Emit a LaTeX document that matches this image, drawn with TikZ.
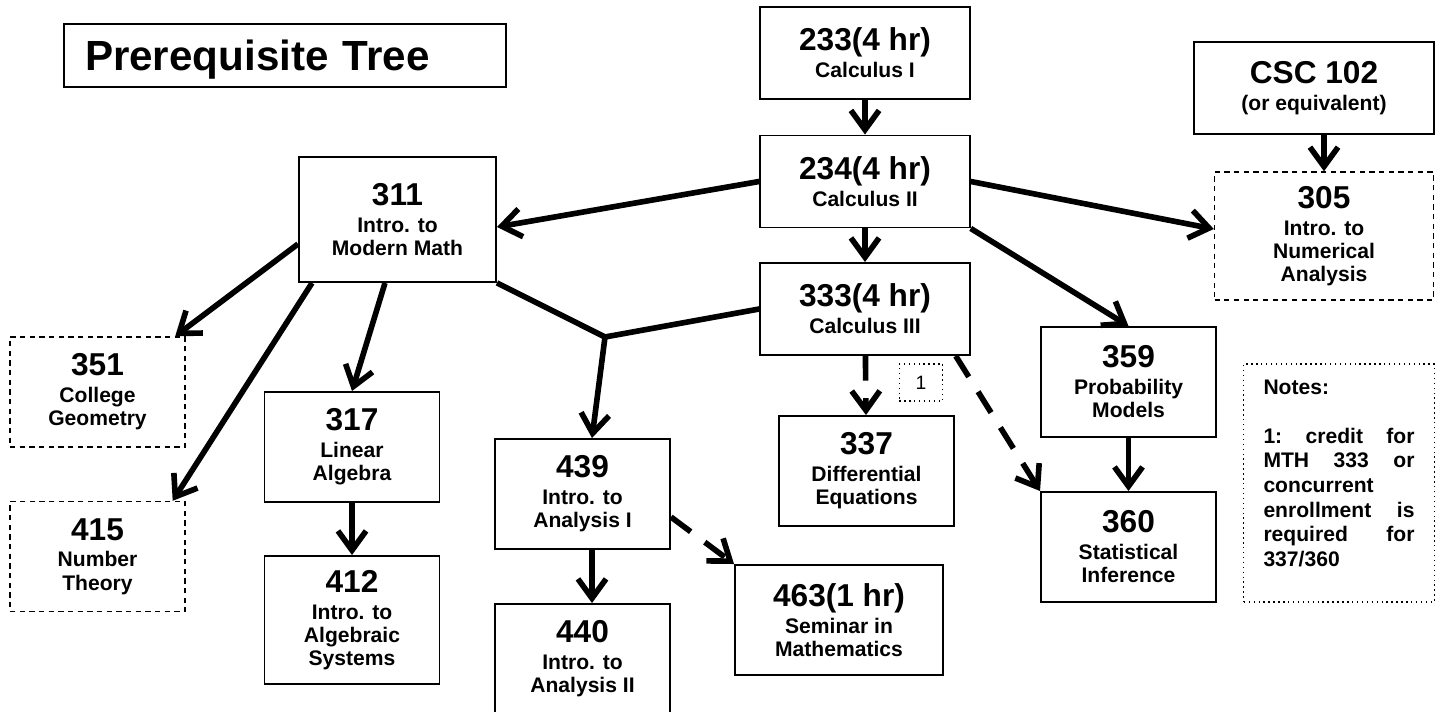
\documentclass[tikz,border=0pt]{standalone}
\usepackage{fontspec}
\setmainfont{Liberation Sans}
\usetikzlibrary{arrows.meta}
\newcommand{\numsize}{\fontsize{18}{20}\selectfont}

\begin{document}
\begin{tikzpicture}[
    course/.style={rectangle, draw=black, line width=1.1pt, align=center, font=\fontsize{12}{13.2}\selectfont\bfseries, minimum width=3.5cm, minimum height=2.2cm, inner sep=2pt},
    dashedbox/.style={course, line width=0.8pt, dash pattern=on 3pt off 2.5pt},
    notebox/.style={draw=black, line width=0.8pt, dotted},
    arrow/.style={-{Straight Barb[length=11pt,width=16pt]}, line width=3.2pt},
    dasharrow/.style={arrow, dash pattern=on 14pt off 10pt},
    link/.style={line width=3.2pt}
]
\useasboundingbox (0,0) rectangle (28.84,14.24);

\node[draw=black, line width=0.7pt, minimum height=1.26cm, text width=8cm, text depth=0pt, inner xsep=0.42cm, align=left, font=\fontsize{24}{28}\selectfont\bfseries] (title) at (5.70,13.13) {Prerequisite Tree};

\node[course, minimum width=4.19cm, minimum height=1.84cm] (c233) at (17.30,13.18) {{\numsize 233(4 hr)}\\[2pt] Calculus I};
\node[course, minimum width=4.19cm, minimum height=1.84cm] (c234) at (17.30,10.61) {{\numsize 234(4 hr)}\\[2pt] Calculus II};
\node[course, minimum width=4.19cm, minimum height=1.84cm] (c333) at (17.30,8.06) {{\numsize 333(4 hr)}\\[2pt] Calculus III};
\node[course, minimum width=4.8cm, minimum height=1.84cm] (csc) at (26.28,12.48) {{\numsize CSC 102}\\[2pt] (or equivalent)};
\node[dashedbox, minimum width=4.38cm, minimum height=2.56cm] (c305) at (26.48,9.52) {{\numsize 305}\\[2pt] Intro. to\\ Numerical\\ Analysis};
\node[course, minimum width=3.94cm, minimum height=2.5cm] (c311) at (7.95,9.85) {{\numsize 311}\\[2pt] Intro. to\\ Modern Math};
\node[dashedbox] (c351) at (1.95,6.40) {{\numsize 351}\\[2pt] College\\ Geometry};
\node[dashedbox] (c415) at (1.95,3.11) {{\numsize 415}\\[2pt] Number\\ Theory};
\node[course] (c317) at (7.04,5.30) {{\numsize 317}\\[2pt] Linear\\ Algebra};
\node[course, minimum height=2.56cm] (c412) at (7.04,1.84) {{\numsize 412}\\[2pt] Intro. to\\ Algebraic\\ Systems};
\node[course] (c439) at (11.65,4.36) {{\numsize 439}\\[2pt] Intro. to\\ Analysis I};
\node[course] (c440) at (11.65,1.06) {{\numsize 440}\\[2pt] Intro. to\\ Analysis II};
\node[course] (c337) at (17.33,4.82) {{\numsize 337}\\[2pt] Differential\\ Equations};
\node[course] (c359) at (22.57,6.60) {{\numsize 359}\\[2pt] Probability\\ Models};
\node[course] (c360) at (22.57,3.30) {{\numsize 360}\\[2pt] Statistical\\ Inference};
\node[course, minimum width=4.16cm] (c463) at (16.78,1.84) {{\numsize 463(1 hr)}\\[2pt] Seminar in\\ Mathematics};

\node[notebox, minimum width=0.87cm, minimum height=0.74cm, font=\fontsize{11}{12}\selectfont] (fn1) at (18.42,6.59) {1};
\node[notebox, text width=3.02cm, inner xsep=0.395cm, minimum height=4.76cm, align=left, font=\fontsize{12}{14}\selectfont\bfseries] (notes) at (26.78,4.58) {Notes:\\[14pt] 1:\hfill credit\hfill for\\ MTH\hfill 333\hfill or\\ concurrent\\ enrollment\hfill is\\ required\hfill for\\ 337/360\vspace{0.39cm}};

\coordinate (j) at (12.10,7.50);

\draw (c233) edge[arrow] (c234);
\draw (c305.north |- csc.south) edge[arrow] (c305.north);
\draw (c234.west) edge[arrow] ([yshift=-0.15cm]c311.east);
\draw (c234.east) edge[arrow] ([yshift=0.14cm]c305.west);
\draw (c234) edge[arrow] (c333);
\draw (c234.south east) edge[arrow] (c359.north);
\draw ([yshift=-0.49cm]c311.west) edge[arrow] ([xshift=-0.21cm]c351.north east);
\draw ([xshift=0.28cm]c311.south west) edge[arrow] ([xshift=-0.26cm]c415.north east);
\draw ([xshift=-0.25cm]c311.south) edge[arrow] (c317.north);
\draw[arrow] (c311.south east) -- (j) -- ([xshift=0.19cm]c439.north);
\draw[link] (c333.west) -- (j);
\draw (c333) edge[dasharrow] (c337);
\draw ([xshift=-0.3cm]c333.south east) edge[dasharrow] (c360.north west);
\draw (c359) edge[arrow] (c360);
\draw (c317) edge[arrow] (c412);
\draw ([xshift=0.19cm]c439.south) edge[arrow] ([xshift=0.19cm]c440.north);
\draw ([yshift=-0.46cm]c439.east) edge[dasharrow] (c463.north west);

\end{tikzpicture}
\end{document}
